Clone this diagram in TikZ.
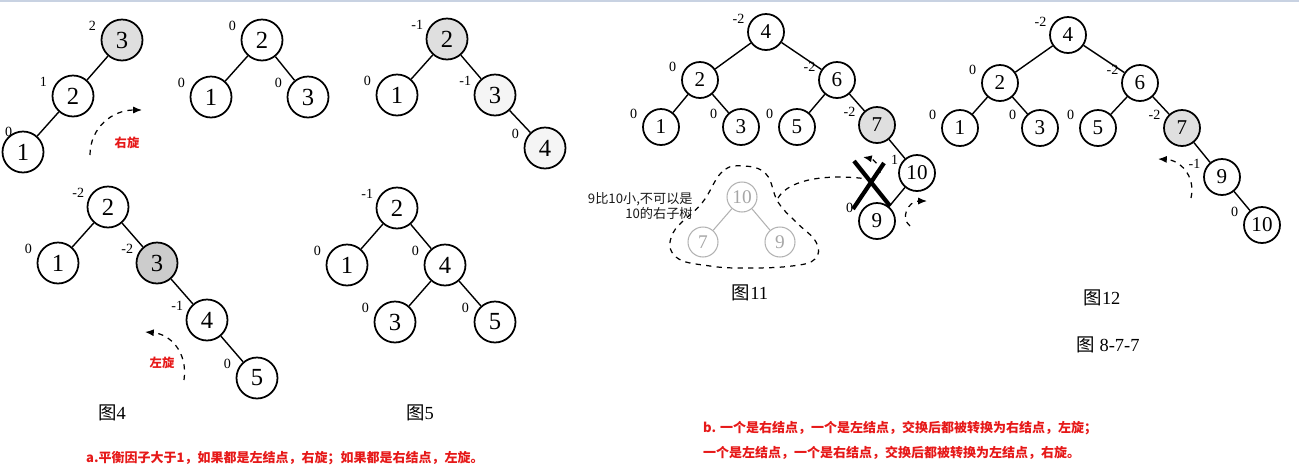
\documentclass[tikz,border=0pt]{standalone}
\usepackage{fontspec}
\setmainfont{Liberation Serif}
\newfontfamily\cjk{Noto Sans CJK SC}
\usetikzlibrary{arrows.meta}
\definecolor{capred}{RGB}{230,25,25}
\definecolor{topline}{RGB}{200,210,226}
\tikzset{
    bnode/.style={circle, draw, line width=1pt, minimum size=0.82cm, inner sep=0pt,
        font=\fontsize{14}{14}\selectfont}, % big tree nodes
    snode/.style={circle, draw, line width=1pt, minimum size=0.72cm, inner sep=0pt,
        font=\fontsize{12}{12}\selectfont}, % small tree nodes
    gnode/.style={circle, draw=gray!60, line width=0.6pt, minimum size=0.6cm, inner sep=0pt,
        text=gray!70, font=\fontsize{11}{11}\selectfont}, % crossed-out subtree
    hl/.style={fill=gray!25},
    lite/.style={fill=gray!8},
    bal/.style={label={[font=\fontsize{8}{8}\selectfont, inner sep=0pt, anchor=center,
        label distance=6.5pt]155:#1}}, % balance factor
    link/.style={line width=0.8pt},
    turn/.style={dashed, line width=0.7pt, -{Latex[length=5pt,width=4pt]}},
    note/.style={text=capred, font=\cjk\bfseries\fontsize{7.4}{10}\selectfont},
    fig/.style={font=\fontsize{10.5}{12}\selectfont},
}
\begin{document}
\begin{tikzpicture}[x=0.02cm, y=-0.02cm]
    \useasboundingbox (0,0) rectangle (1299,471);
    \draw[topline, line width=1.2pt] (0,1) -- (1299,1);

    % right rotation
    \node[bnode, hl, bal=2] (a3) at (122,40) {3};
    \node[bnode, bal=1] (a2) at (73,96) {2};
    \node[bnode, label={[font=\fontsize{8}{8}\selectfont, inner sep=0pt, anchor=center,
        label distance=2pt]125:0}] (a1) at (23,152) {1};
    \path[link] (a3) edge (a2) (a2) edge (a1);
    \coordinate (ra) at (90,155);
    \coordinate (rb) at (142,110);
    \draw[turn] (ra) .. controls (90,128) and (112,110) .. (rb);
    \node[note, font=\cjk\bfseries\fontsize{7}{8}\selectfont] (rot1) at (127,143) {右旋};

    \node[bnode, bal=0] (b2) at (262,40) {2};
    \node[bnode, bal=0] (b1) at (211,97) {1};
    \node[bnode, bal=0] (b3) at (308,97) {3};
    \path[link] (b2) edge (b1) (b2) edge (b3);

    \node[bnode, hl, bal=-1] (c2) at (447,39) {2};
    \node[bnode, bal=0] (c1) at (397,95) {1};
    \node[bnode, lite, bal=-1] (c3) at (495,95) {3};
    \node[bnode, lite, bal=0] (c4) at (545,148) {4};
    \path[link] (c2) edge (c1) (c2) edge (c3) (c3) edge (c4);

    % left rotation
    \node[bnode, bal=-2] (d2) at (108,207) {2};
    \node[bnode, bal=0] (d1) at (58,263) {1};
    \node[bnode, fill=gray!40, bal=-2] (d3) at (157,263) {3};
    \node[bnode, bal=-1] (d4) at (207,320) {4};
    \node[bnode, bal=0] (d5) at (257,378) {5};
    \path[link] (d2) edge (d1) (d2) edge (d3) (d3) edge (d4) (d4) edge (d5);
    \coordinate (la) at (184,380);
    \coordinate (lb) at (145,332);
    \draw[turn] (la) .. controls (188,352) and (170,334) .. (lb);
    \node[note, font=\cjk\bfseries\fontsize{7}{8}\selectfont] (rot2) at (162,363) {左旋};
    \node[fig] (f4) at (112,413) {{\cjk 图}4};

    \node[bnode, bal=-1] (e2) at (397,208) {2};
    \node[bnode, bal=0] (e1) at (347,265) {1};
    \node[bnode, bal=0] (e4) at (445,265) {4};
    \node[bnode, bal=0] (e3) at (395,322) {3};
    \node[bnode, bal=0] (e5) at (495,322) {5};
    \path[link] (e2) edge (e1) (e2) edge (e4) (e4) edge (e3) (e4) edge (e5);
    \node[fig] (f5) at (420,413) {{\cjk 图}5};

    % figure 11
    \node[snode, bal=-2] (g4) at (766,32) {4};
    \node[snode, bal=0] (g2) at (700,80) {2};
    \node[snode, bal=-2] (g6) at (837,80) {6};
    \node[snode, bal=0] (g1) at (661,127) {1};
    \node[snode, bal=0] (g3) at (741,127) {3};
    \node[snode, bal=0] (g5) at (797,127) {5};
    \node[snode, hl, bal=-2] (g7) at (877,125) {7};
    \node[snode, label={[font=\fontsize{8}{8}\selectfont, inner sep=0pt, anchor=center,
        label distance=4pt]150:1}] (g10) at (917,173) {10};
    \node[snode, bal=0] (g9) at (877,221) {9};
    \path[link] (g4) edge (g2) (g4) edge (g6) (g2) edge (g1) (g2) edge (g3)
        (g6) edge (g5) (g6) edge (g7) (g7) edge (g10) (g10) edge (g9);
    \draw[line width=2.4pt] (854,161) -- (890,206);
    \draw[line width=2.4pt] (884,163) -- (853,209);
    \coordinate (xa) at (880,173);
    \coordinate (xb) at (863,157);
    \draw[turn] (xa) .. controls (880,165) and (873,159) .. (xb);
    \coordinate (ya) at (910,226);
    \coordinate (yb) at (927,201);
    \draw[turn] (ya) .. controls (900,218) and (908,201) .. (yb);

    \node[gnode] (h10) at (742,197) {10};
    \node[gnode] (h7) at (703,242) {7};
    \node[gnode] (h9) at (780,242) {9};
    \path[draw=gray!60, line width=0.6pt] (h10) edge (h7) (h10) edge (h9);
    \draw[dashed, line width=0.7pt] plot[smooth cycle, tension=0.7] coordinates
        {(743,166) (722,172) (702,203) (673,233) (676,257) (710,266) (748,268)
         (792,266) (815,259) (816,242) (796,222) (778,202) (766,174)};
    \coordinate (ba) at (778,198);
    \coordinate (bb) at (868,179);
    \draw[dashed, line width=0.7pt] (ba) .. controls (790,178) and (830,174) .. (bb);
    \node[align=right, anchor=east, inner sep=0pt, text=gray!20!black,
        font=\cjk\fontsize{7.5}{8}\selectfont] (hint) at (693,206) {9比10小,不可以是\\10的右子树};
    \node[fig] (f11) at (750,293) {{\cjk 图}11};

    % figure 12
    \node[snode, bal=-2] (k4) at (1068,35) {4};
    \node[snode, bal=0] (k2) at (1000,83) {2};
    \node[snode, bal=-2] (k6) at (1140,83) {6};
    \node[snode, bal=0] (k1) at (960,128) {1};
    \node[snode, bal=0] (k3) at (1040,128) {3};
    \node[snode, bal=0] (k5) at (1098,128) {5};
    \node[snode, hl, bal=-2] (k7) at (1182,128) {7};
    \node[snode, bal=-1] (k9) at (1222,177) {9};
    \node[snode, bal=0] (k10) at (1262,225) {10};
    \path[link] (k4) edge (k2) (k4) edge (k6) (k2) edge (k1) (k2) edge (k3)
        (k6) edge (k5) (k6) edge (k7) (k7) edge (k9) (k9) edge (k10);
    \coordinate (ma) at (1191,198);
    \coordinate (mb) at (1158,159);
    \draw[turn] (ma) .. controls (1196,176) and (1180,160) .. (mb);
    \node[fig] (f12) at (1102,298) {{\cjk 图}12};
    \node[fig] (f877) at (1108,345) {{\cjk 图} 8-7-7};

    % notes
    \node[note, anchor=west] (capa) at (80,458) {a.平衡因子大于1，如果都是左结点，右旋；如果都是右结点，左旋。};
    \node[note, anchor=west] (capb1) at (697,428) {b. 一个是右结点，一个是左结点，交换后都被转换为右结点，左旋；};
    \node[note, anchor=west] (capb2) at (697,453) {一个是左结点，一个是右结点，交换后都被转换为左结点，右旋。};
\end{tikzpicture}
\end{document}
